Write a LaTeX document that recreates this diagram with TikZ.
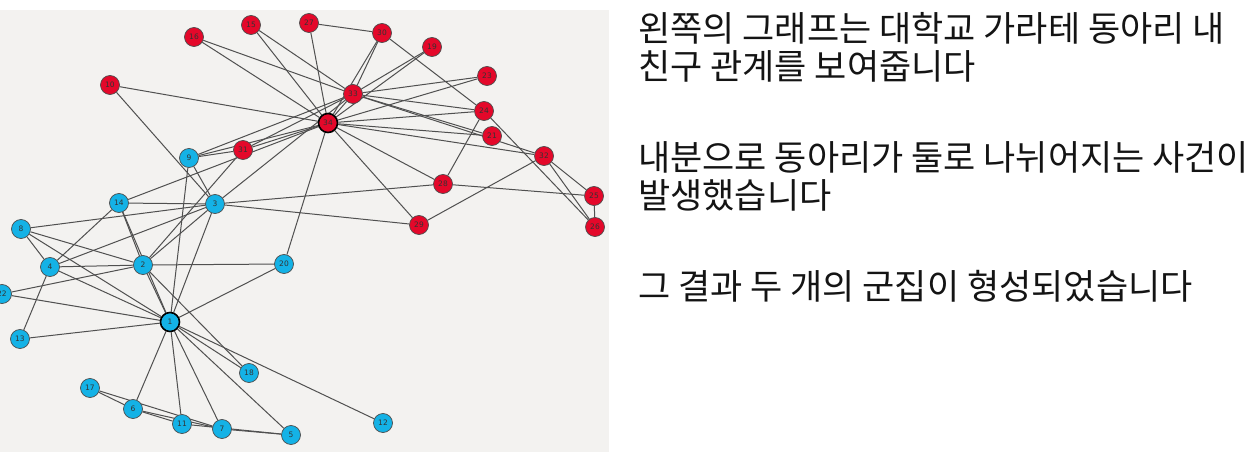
\documentclass[tikz,border=0pt]{standalone}
\usepackage{fontspec}
\setmainfont{DejaVu Sans}
\newfontfamily\krfont{Noto Sans CJK KR}
\pgfdeclarelayer{back}
\pgfdeclarelayer{bg}
\pgfsetlayers{back,bg,main}
\definecolor{nodeblue}{RGB}{20,178,230}
\definecolor{nodered}{RGB}{228,8,42}
\definecolor{panelgray}{RGB}{243,242,240}
\definecolor{edgegray}{RGB}{80,80,80}
\tikzset{
  vtx/.style={circle, minimum size=19pt, inner sep=0pt, draw=black!70, line width=0.7pt,
    font=\fontsize{7.5}{7.5}\selectfont, text=black!80},
  bnode/.style={vtx, fill=nodeblue},
  rnode/.style={vtx, fill=nodered},
  hub/.style={line width=1.6pt, draw=black},
  edge/.style={draw=edgegray, line width=1pt},
  krtext/.style={anchor=base west, inner sep=0pt, font=\krfont\fontsize{35}{35}\selectfont, text=black!92}
}
\begin{document}
\begin{tikzpicture}[x=1pt,y=-1pt]
\useasboundingbox (0,0) rectangle (1258,457);
\begin{pgfonlayer}{back}
  \fill[panelgray] (0,10) rectangle (609,452);
\end{pgfonlayer}
\begin{scope}
  \clip (0,10) rectangle (609,452);
  % blue group
  \node[bnode,hub] (n1) at (170,322) {1};
  \node[bnode] (n2) at (143,265) {2};
  \node[bnode] (n3) at (215,204) {3};
  \node[bnode] (n4) at (50,267) {4};
  \node[bnode] (n5) at (291,435) {5};
  \node[bnode] (n6) at (133,409) {6};
  \node[bnode] (n7) at (222,429) {7};
  \node[bnode] (n8) at (21,229) {8};
  \node[bnode] (n9) at (189,158) {9};
  \node[bnode] (n11) at (182,424) {11};
  \node[bnode] (n12) at (383,423) {12};
  \node[bnode] (n13) at (20,339) {13};
  \node[bnode] (n14) at (119,203) {14};
  \node[bnode] (n17) at (90,388) {17};
  \node[bnode] (n18) at (249,373) {18};
  \node[bnode] (n20) at (284,264) {20};
  \node[bnode] (n22) at (2,294) {22};
  % red group
  \node[rnode] (n10) at (110,85) {10};
  \node[rnode] (n15) at (251,25) {15};
  \node[rnode] (n16) at (194,37) {16};
  \node[rnode] (n19) at (432,47) {19};
  \node[rnode] (n21) at (492,136) {21};
  \node[rnode] (n23) at (487,76) {23};
  \node[rnode] (n24) at (484,111) {24};
  \node[rnode] (n25) at (594,196) {25};
  \node[rnode] (n26) at (595,227) {26};
  \node[rnode] (n27) at (309,23) {27};
  \node[rnode] (n28) at (443,184) {28};
  \node[rnode] (n29) at (419,225) {29};
  \node[rnode] (n30) at (382,33) {30};
  \node[rnode] (n31) at (243,150) {31};
  \node[rnode] (n32) at (544,156) {32};
  \node[rnode] (n33) at (353,94) {33};
  \node[rnode,hub] (n34) at (328,123) {34};
\end{scope}
\begin{pgfonlayer}{bg}
\begin{scope}
  \clip (0,10) rectangle (609,452);
  \foreach \a/\b in {1/2,1/3,1/4,1/5,1/6,1/7,1/8,1/9,1/11,1/12,1/13,1/14,1/18,1/20,1/22,
    2/3,2/4,2/8,2/14,2/18,2/20,2/22,2/31,
    3/4,3/8,3/9,3/10,3/14,3/28,3/29,3/33,
    4/8,4/13,4/14,5/7,5/11,6/7,6/11,6/17,7/17,
    9/31,9/33,9/34,10/34,14/34,15/33,15/34,16/33,16/34,19/33,19/34,20/34,
    21/33,21/34,23/33,23/34,24/26,24/28,24/30,24/33,24/34,
    25/26,25/28,25/32,26/32,27/30,27/34,28/34,29/32,29/34,
    30/33,30/34,31/33,31/34,32/33,32/34,33/34}
    \draw[edge] (n\a) -- (n\b);
\end{scope}
\end{pgfonlayer}
\node[krtext] (t1) at (638,42) {왼쪽의 그래프는 대학교 가라테 동아리 내};
\node[krtext] (t2) at (638,80) {친구 관계를 보여줍니다};
\node[krtext] (t3) at (638,171) {내분으로 동아리가 둘로 나뉘어지는 사건이};
\node[krtext] (t4) at (638,209) {발생했습니다};
\node[krtext] (t5) at (638,299) {그 결과 두 개의 군집이 형성되었습니다};
\end{tikzpicture}
\end{document}
